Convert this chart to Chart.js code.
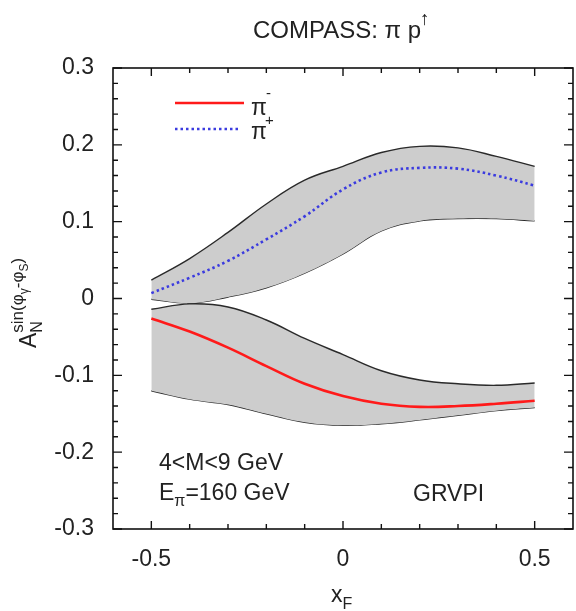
<!DOCTYPE html>
<html>
<head>
<meta charset="utf-8">
<script src="https://cdn.jsdelivr.net/npm/chart.js@4.4.1/dist/chart.umd.min.js"></script>
<style>
html,body{margin:0;padding:0;background:#fff;}
#wrap{width:576px;height:611px;position:relative;}
</style>
</head>
<body>
<div id="wrap"><canvas id="c" width="576" height="611"></canvas></div>
<script>
// ---- data ----
const xValues = [-0.5, -0.4, -0.3, -0.2, -0.1, 0.0, 0.1, 0.2, 0.3, 0.4, 0.5];
const piPlusCentral = [0.007, 0.027, 0.049, 0.077, 0.107, 0.142, 0.164, 0.170, 0.169, 0.160, 0.147];
const piPlusUpper   = [0.024, 0.052, 0.086, 0.123, 0.154, 0.172, 0.190, 0.198, 0.196, 0.185, 0.172];
const piPlusLower   = [-0.001, -0.006, 0.002, 0.014, 0.033, 0.058, 0.088, 0.101, 0.104, 0.104, 0.101];
const piMinusCentral = [-0.026, -0.043, -0.064, -0.088, -0.111, -0.127, -0.137, -0.141, -0.140, -0.137, -0.133];
const piMinusUpper   = [-0.014, -0.007, -0.011, -0.028, -0.052, -0.073, -0.094, -0.106, -0.111, -0.113, -0.110];
const piMinusLower   = [-0.120, -0.131, -0.138, -0.150, -0.161, -0.165, -0.163, -0.158, -0.152, -0.146, -0.142];
const xTickLabels = [-0.5, 0, 0.5];
const xMinorTicks = [-0.4, -0.3, -0.2, -0.1, 0.1, 0.2, 0.3, 0.4];
const yTickLabels = [-0.3, -0.2, -0.1, 0, 0.1, 0.2, 0.3];
const seriesNames = ['π', 'π'];
const seriesSigns = ['-', '+'];

const pts = arr => arr.map((y, i) => ({x: xValues[i], y: y}));
const FONT = '"Liberation Sans", Arial, sans-serif';
const BAND = '#cdcdcd';
const EDGE = '#2a2a2a';

const bandEdge = (data, fillTarget) => ({
  data: pts(data), borderColor: EDGE, borderWidth: 1.4, pointRadius: 0,
  fill: fillTarget === undefined ? false : {target: fillTarget},
  backgroundColor: BAND, tension: 0.4, order: 2
});

const ticksPlugin = {
  id: 'frameTicks',
  afterDraw(chart) {
    const ctx = chart.ctx, a = chart.chartArea;
    const xs = chart.scales.x, ys = chart.scales.y;
    ctx.save();
    ctx.strokeStyle = '#111';
    ctx.lineWidth = 1.6;
    ctx.strokeRect(a.left, a.top, a.right - a.left, a.bottom - a.top);
    ctx.lineWidth = 1.4;
    ctx.beginPath();
    const xt = (v, len) => {
      const p = xs.getPixelForValue(v);
      ctx.moveTo(p, a.bottom); ctx.lineTo(p, a.bottom - len);
      ctx.moveTo(p, a.top); ctx.lineTo(p, a.top + len);
    };
    const yt = (v, len) => {
      const p = ys.getPixelForValue(v);
      ctx.moveTo(a.left, p); ctx.lineTo(a.left + len, p);
      ctx.moveTo(a.right, p); ctx.lineTo(a.right - len, p);
    };
    xTickLabels.forEach(v => xt(v, 8));
    xMinorTicks.forEach(v => xt(v, 5));
    for (let i = -15; i <= 15; i++) {
      const v = i / 50;
      yt(v, (i % 5 === 0) ? 9 : 5);
    }
    ctx.stroke();
    ctx.restore();
  }
};

const textPlugin = {
  id: 'texts',
  afterDraw(chart) {
    const ctx = chart.ctx, a = chart.chartArea;
    ctx.save();
    ctx.fillStyle = '#222';
    ctx.textBaseline = 'alphabetic';
    // Title
    ctx.font = '24px ' + FONT;
    const t1 = 'COMPASS: π p';
    const w1 = ctx.measureText(t1).width;
    const cx = (a.left + a.right) / 2 - 6;
    ctx.textAlign = 'left';
    ctx.fillText(t1, cx - w1 / 2, 38);
    ctx.font = 'bold 19px ' + FONT;
    ctx.fillText('↑', cx + w1 / 2 - 1, 25);

    // Legend
    ctx.lineWidth = 2.5;
    ctx.strokeStyle = '#ff1a1a';
    ctx.beginPath(); ctx.moveTo(175, 103); ctx.lineTo(244, 103); ctx.stroke();
    ctx.strokeStyle = '#3b3bdf';
    ctx.setLineDash([2.5, 3]);
    ctx.beginPath(); ctx.moveTo(175, 129); ctx.lineTo(241, 129); ctx.stroke();
    ctx.setLineDash([]);
    ctx.font = '23px ' + FONT;
    ctx.fillText(seriesNames[0], 251, 115);
    ctx.fillText(seriesNames[1], 251, 139);
    ctx.font = '15px ' + FONT;
    ctx.fillText(seriesSigns[0], 266, 98);
    ctx.fillText(seriesSigns[1], 265, 125);

    // Annotations
    ctx.font = '23px ' + FONT;
    ctx.fillText('4<M<9 GeV', 159, 470);
    ctx.fillText('E', 159, 500);
    const we = ctx.measureText('E').width;
    ctx.font = '16px ' + FONT;
    ctx.fillText('π', 159 + we, 506);
    const wp = ctx.measureText('π').width;
    ctx.font = '23px ' + FONT;
    ctx.fillText('=160 GeV', 159 + we + wp, 500);
    ctx.fillText('GRVPI', 413, 501);

    // x label
    ctx.font = '23px ' + FONT;
    ctx.fillText('x', 331, 602);
    const wx = ctx.measureText('x').width;
    ctx.font = '16px ' + FONT;
    ctx.fillText('F', 331 + wx, 609);

    // y label (rotated)
    ctx.translate(36, 298);
    ctx.rotate(-Math.PI / 2);
    ctx.font = '23px ' + FONT;
    const yl0 = -50;
    ctx.fillText('A', yl0, 0);
    const wa = ctx.measureText('A').width;
    ctx.font = '16px ' + FONT;
    ctx.fillText('N', yl0 + wa, 6);
    let px = yl0 + wa;
    const sup = (s, dy, size) => {
      ctx.font = size + 'px ' + FONT;
      ctx.fillText(s, px, dy);
      px += ctx.measureText(s).width;
    };
    sup('sin(φ', -13, 17);
    sup('γ', -8, 12);
    sup('-φ', -13, 17);
    sup('S', -8, 12);
    sup(')', -13, 17);
    ctx.restore();
  }
};

new Chart(document.getElementById('c'), {
  type: 'line',
  data: {
    datasets: [
      {label: 'pip-central', data: pts(piPlusCentral), borderColor: '#3b3bdf', borderWidth: 2.6,
        borderDash: [2.5, 3], pointRadius: 0, fill: false, tension: 0.4, order: 0},
      {label: 'pim-central', data: pts(piMinusCentral), borderColor: '#ff1a1a', borderWidth: 2.6,
        pointRadius: 0, fill: false, tension: 0.4, order: 0},
      Object.assign({label: 'pip-up'}, bandEdge(piPlusUpper, 3)),
      Object.assign({label: 'pip-low'}, bandEdge(piPlusLower)),
      Object.assign({label: 'pim-up'}, bandEdge(piMinusUpper, 5)),
      Object.assign({label: 'pim-low'}, bandEdge(piMinusLower))
    ]
  },
  options: {
    responsive: false,
    animation: false,
    layout: {padding: {top: 68, right: 3, left: 0, bottom: 0}},
    plugins: {legend: {display: false}, tooltip: {enabled: false}, title: {display: false}},
    scales: {
      x: {
        type: 'linear', min: -0.6, max: 0.6,
        grid: {display: false}, border: {display: false},
        ticks: {color: '#222', font: {family: FONT, size: 23}, padding: 9, maxRotation: 0, autoSkip: false,
          callback: v => (Math.abs(v) < 1e-9 ? '0' : Number(v).toFixed(1))},
        afterBuildTicks: s => { s.ticks = xTickLabels.map(v => ({value: v})); },
        afterFit: s => { s.height = 82; }
      },
      y: {
        type: 'linear', min: -0.3, max: 0.3,
        grid: {display: false}, border: {display: false},
        ticks: {color: '#222', font: {family: FONT, size: 23}, padding: 11, autoSkip: false,
          callback: v => (Math.abs(v) < 1e-9 ? '0' : Number(v).toFixed(1))},
        afterBuildTicks: s => { s.ticks = yTickLabels.map(v => ({value: v})); },
        afterFit: s => { s.width = 113; }
      }
    }
  },
  plugins: [ticksPlugin, textPlugin]
});
</script>
</body>
</html>
